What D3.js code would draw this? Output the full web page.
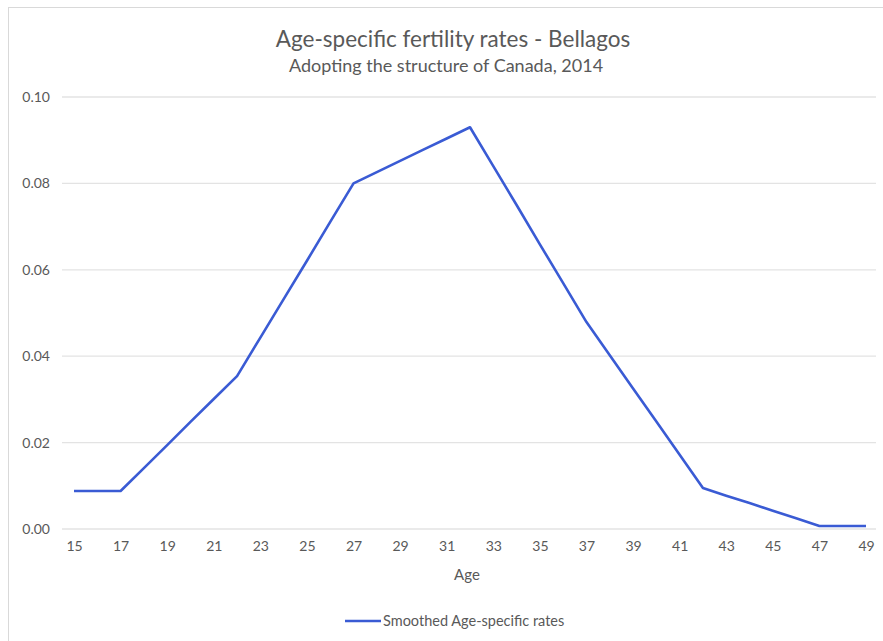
<!DOCTYPE html>
<html>
<head>
<meta charset="utf-8">
<script src="https://cdn.jsdelivr.net/npm/d3@7"></script>
<style>
  html, body { margin: 0; padding: 0; background: #fff; }
  svg { display: block; }
  text { font-family: Lato, "Open Sans", sans-serif; fill: #595959; }
</style>
</head>
<body>
<svg id="chart" width="883" height="641"></svg>
<script>
const titleText = "Age-specific fertility rates - Bellagos";
const subtitleText = "Adopting the structure of Canada, 2014";
const xTitle = "Age";
const seriesName = "Smoothed Age-specific rates";

const ages = [15,16,17,18,19,20,21,22,23,24,25,26,27,28,29,30,31,32,33,34,35,36,37,38,39,40,41,42,43,44,45,46,47,48,49];
const rates = [0.0088,0.0088,0.0088,0.0141,0.0194,0.0248,0.0301,0.0354,0.0443,0.0532,0.0621,0.0711,0.0800,
               0.0826,0.0852,0.0878,0.0904,0.0930,0.0840,0.0750,0.0659,0.0569,0.0479,0.0402,0.0325,0.0249,
               0.0172,0.0095,0.0077,0.0060,0.0042,0.0025,0.0007,0.0007,0.0007];
const xTickLabels = [15,17,19,21,23,25,27,29,31,33,35,37,39,41,43,45,47,49];
const yTicks = [0, 0.02, 0.04, 0.06, 0.08, 0.10];

const svg = d3.select("#chart");

// chart frame
svg.append("rect").attr("x", 8.5).attr("y", 7.5).attr("width", 900).attr("height", 700)
  .attr("fill", "#fff").attr("stroke", "#d9d9d9").attr("stroke-width", 1);

const plotLeft = 62, plotRight = 876;
const x = d3.scalePoint().domain(ages).range([74, 866]);
const y = d3.scaleLinear().domain([0, 0.10]).range([529, 97]);

// gridlines
svg.append("g").selectAll("line").data(yTicks).join("line")
  .attr("x1", plotLeft).attr("x2", plotRight)
  .attr("y1", d => y(d)).attr("y2", d => y(d))
  .attr("stroke", "#e3e3e3").attr("stroke-width", 1.3);

// y axis labels
const yAxis = d3.axisLeft(y).tickValues(yTicks).tickFormat(d3.format(".2f")).tickSize(0).tickPadding(0);
const gy = svg.append("g").attr("transform", "translate(50,0)").call(yAxis);
gy.select(".domain").remove();
gy.selectAll("text").style("font-family", "Lato, sans-serif").style("font-size", "14px").attr("fill", "#595959");

// x axis labels
const xAxis = d3.axisBottom(x).tickValues(xTickLabels).tickSize(0).tickPadding(0);
const gx = svg.append("g").attr("transform", "translate(0,541)").call(xAxis);
gx.select(".domain").remove();
gx.selectAll("text").style("font-family", "Lato, sans-serif").style("font-size", "14px").attr("fill", "#595959");

// line
const line = d3.line().x((d, i) => x(ages[i])).y(d => y(d));
svg.append("path").datum(rates)
  .attr("d", line).attr("fill", "none")
  .attr("stroke", "#3a5bd4").attr("stroke-width", 2.6)
  .attr("stroke-linejoin", "round");

// titles
svg.append("text").attr("x", 453).attr("y", 47).attr("text-anchor", "middle")
  .style("font-size", "22.5px").text(titleText);
svg.append("text").attr("x", 446).attr("y", 72).attr("text-anchor", "middle")
  .style("font-size", "18px").text(subtitleText);
svg.append("text").attr("x", 467).attr("y", 580).attr("text-anchor", "middle")
  .style("font-size", "15px").text(xTitle);

// legend
svg.append("line").attr("x1", 345).attr("x2", 381).attr("y1", 621).attr("y2", 621)
  .attr("stroke", "#3a5bd4").attr("stroke-width", 2.6);
svg.append("text").attr("x", 383).attr("y", 626)
  .style("font-size", "14.5px").text(seriesName);
</script>
</body>
</html>
